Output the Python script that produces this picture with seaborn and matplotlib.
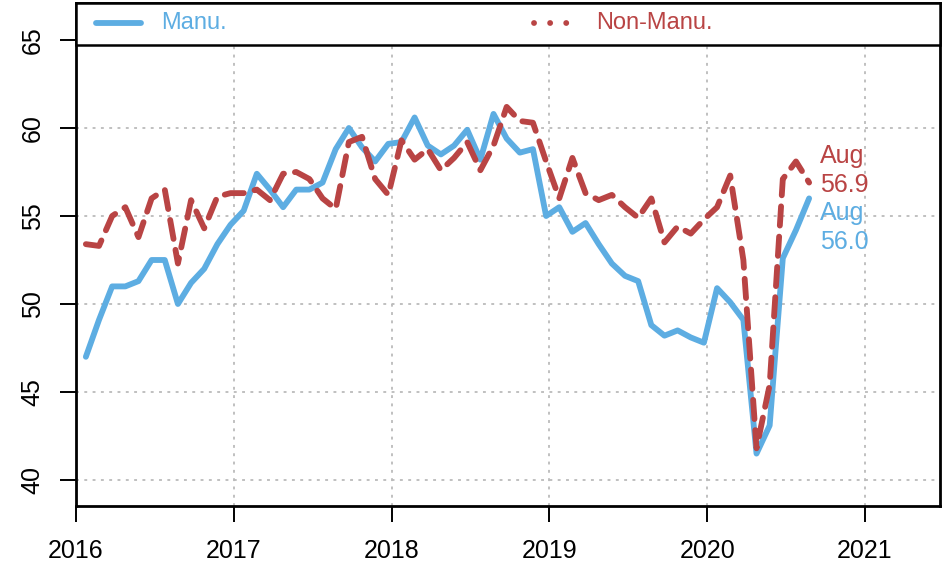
import numpy as np
import pandas as pd
import matplotlib
matplotlib.use("Agg")
import matplotlib.pyplot as plt
import seaborn as sns
from matplotlib.patches import Rectangle
from matplotlib.lines import Line2D

# ---- data (Jan 2016 - Aug 2020) ----
years = [2016] * 12 + [2017] * 12 + [2018] * 12 + [2019] * 12 + [2020] * 8
months = list(range(1, 13)) * 4 + list(range(1, 9))

manu = [47.0, 49.1, 51.0, 51.0, 51.3, 52.5, 52.5, 50.0, 51.2, 52.0, 53.4, 54.5,
        55.3, 57.4, 56.5, 55.5, 56.5, 56.5, 56.9, 58.8, 60.0, 58.9, 58.1, 59.1,
        59.2, 60.6, 59.0, 58.5, 59.0, 59.9, 58.2, 60.8, 59.4, 58.6, 58.8, 55.0,
        55.5, 54.1, 54.6, 53.4, 52.3, 51.6, 51.3, 48.8, 48.2, 48.5, 48.1, 47.8,
        50.9, 50.1, 49.1, 41.5, 43.1, 52.6, 54.2, 56.0]

nonmanu = [53.4, 53.3, 55.0, 55.5, 53.8, 56.0, 56.5, 52.3, 55.9, 54.3, 56.1, 56.3,
           56.3, 56.5, 55.9, 57.4, 57.5, 57.1, 56.0, 55.4, 59.2, 59.5, 57.1, 56.2,
           59.3, 58.2, 58.8, 57.6, 58.3, 59.2, 57.6, 59.0, 61.2, 60.4, 60.3, 58.1,
           56.0, 58.3, 56.3, 55.9, 56.2, 55.5, 54.9, 56.0, 53.5, 54.4, 54.0, 54.8,
           55.5, 57.3, 52.5, 41.8, 45.4, 57.1, 58.1, 56.9]

series_names = ["Manu.", "Non-Manu."]
colors = ["#5DADE2", "#B94444"]
x_ticks = [2016, 2017, 2018, 2019, 2020, 2021]
y_ticks = [40, 45, 50, 55, 60, 65]
last_label = "Aug"

# ---- build long table ----
xpos = [y + (m - 0.25) / 12 for y, m in zip(years, months)]
df = pd.DataFrame({
    "x": xpos * 2,
    "value": manu + nonmanu,
    "series": [series_names[0]] * len(manu) + [series_names[1]] * len(nonmanu),
})

sns.set_theme(style="white")
plt.rcParams["font.family"] = ["Liberation Sans", "DejaVu Sans"]

W, H = 947, 570
fig = plt.figure(figsize=(W / 100, H / 100), dpi=100)
ax = fig.add_axes([76 / W, 64 / H, 864 / W, 503 / H])

LW = 4.2
palette = dict(zip(series_names, colors))
sns.lineplot(data=df, x="x", y="value", hue="series", style="series",
             palette=palette, dashes={series_names[0]: "", series_names[1]: (3.3, 1.9)},
             linewidth=LW, legend=False, ax=ax, zorder=3,
             solid_capstyle="round", dash_capstyle="round",
             solid_joinstyle="round", dash_joinstyle="round")

ax.set_xlim(2016.0, 2016 + 864 / 157.8)
ax.set_ylim(40 - 26 / 17.6, 65 + 37 / 17.6)
ax.set_xticks(x_ticks)
ax.set_yticks(y_ticks)
ax.set_xticklabels([str(t) for t in x_ticks])
ax.set_yticklabels([str(t) for t in y_ticks], rotation=90, va="center")
ax.set_xlabel("")
ax.set_ylabel("")

ax.grid(True, color="#BBBBBB", linestyle=(0, (1.6, 3.0)), linewidth=1.3, zorder=0)
ax.set_axisbelow(True)
for s in ax.spines.values():
    s.set_visible(True)
    s.set_color("black")
    s.set_linewidth(2.0)
ax.tick_params(axis="both", which="major", direction="out", length=11.5, width=1.4,
               color="black", labelsize=18, labelcolor="black", bottom=True, left=True)
ax.tick_params(axis="x", pad=12)
ax.tick_params(axis="y", pad=11)

# ---- legend strip at top ----
yb = 1 - 42 / 503
ax.add_patch(Rectangle((0, yb), 1, 1 - yb, transform=ax.transAxes, facecolor="white",
                       edgecolor="black", linewidth=1.8, zorder=5, clip_on=False))
yl = 1 - 20 / 503
ax.add_line(Line2D([(96 - 76) / 864, (141 - 76) / 864], [yl, yl], transform=ax.transAxes,
                   color=colors[0], linewidth=LW, solid_capstyle="round", zorder=6))
ax.text((161 - 76) / 864, yl, series_names[0], transform=ax.transAxes, color=colors[0],
        fontsize=17, va="center", ha="left", zorder=6)
ax.add_line(Line2D([(534 - 76) / 864, (567 - 76) / 864], [yl, yl], transform=ax.transAxes,
                   color=colors[1], linewidth=LW, linestyle=(0, (0.01, 2.75)),
                   dash_capstyle="round", zorder=6))
ax.text((596 - 76) / 864, yl, series_names[1], transform=ax.transAxes, color=colors[1],
        fontsize=17, va="center", ha="left", zorder=6)

# ---- end labels ----
xl = xpos[-1]
ax.annotate(last_label, xy=(xl, nonmanu[-1]), xytext=(11, 20), textcoords="offset pixels",
            color=colors[1], fontsize=18, va="baseline", ha="left")
ax.annotate(f"{nonmanu[-1]:.1f}", xy=(xl, nonmanu[-1]), xytext=(11, -9), textcoords="offset pixels",
            color=colors[1], fontsize=18, va="baseline", ha="left")
ax.annotate(last_label, xy=(xl, manu[-1]), xytext=(11, -22), textcoords="offset pixels",
            color=colors[0], fontsize=18, va="baseline", ha="left")
ax.annotate(f"{manu[-1]:.1f}", xy=(xl, manu[-1]), xytext=(11, -51), textcoords="offset pixels",
            color=colors[0], fontsize=18, va="baseline", ha="left")

fig.savefig("out.png", dpi=100)
